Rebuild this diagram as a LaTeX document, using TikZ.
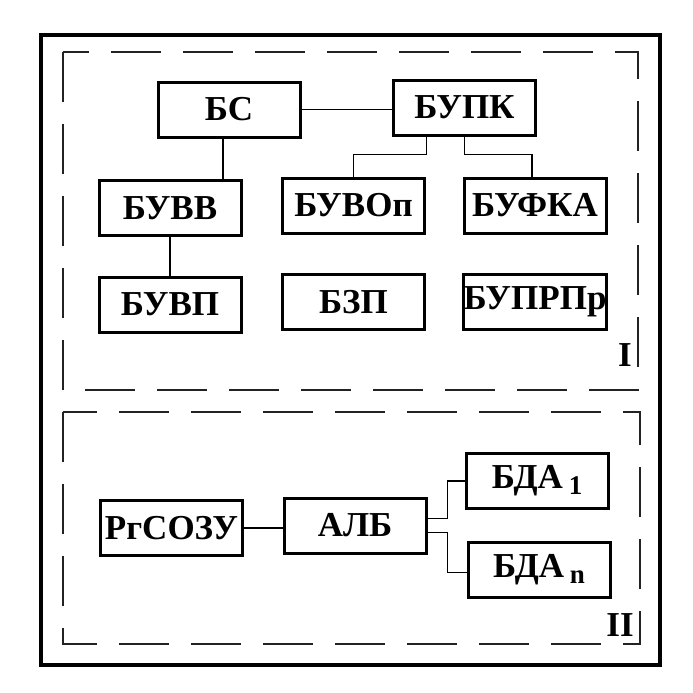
\documentclass[tikz,border=0pt]{standalone}
\usepackage{fontspec}
\setmainfont{Liberation Serif}
\usepackage{tikz}
\usetikzlibrary{positioning,calc}
\definecolor{sink}{HTML}{000000}
\definecolor{sdash}{HTML}{222222}

\begin{document}
\begin{tikzpicture}[x=1pt,y=-1pt,
  every node/.style={font=\fontsize{35}{37}\selectfont\bfseries,text=sink},
  blok/.style={draw=sink,line width=3pt,minimum width=142pt,minimum height=55pt,inner sep=0pt},
  ramka/.style={draw=sdash,line width=1.6pt,dash pattern=on 50pt off 22pt},
  link/.style={draw=sink,line width=1.3pt}]
  \useasboundingbox (0,0) rectangle (693,693);

  % outer frame and the two groups
  \draw[sink,line width=3.5pt] (41,35) rectangle (660,665);
  \draw[ramka] (63,52) rectangle (638,390);
  \draw[ramka] (63,412) rectangle (640,644);
  \node (lab1) at (625,355) {I};
  \node (lab2) at (620,625) {II};

  % group I
  \node[blok] (bs) at (229,109.5) {БС};
  \node[blok] (bupk) at (464.5,107.5) {БУПК};
  \node[blok] (buvv) at (170,208) {БУВВ};
  \node[blok] (buvop) at (353.5,205.5) {БУВОп};
  \node[blok] (bufka) at (535,205.5) {БУФКА};
  \node[blok] (buvp) at (170,304.5) {БУВП};
  \node[blok] (bzp) at (353.5,302) {БЗП};
  \node[blok] (buprpr) at (535,302) {БУПРПр};

  \draw[link] (bs.east) -- (bs.east -| bupk.west);
  \draw[link] ([xshift=-6pt]bs.south) -- ([xshift=-6pt]bs.south |- buvv.north);
  \draw[link] (buvv) -- (buvp);
  \draw[link] ([xshift=-38pt]bupk.south) -- ++(0,18) -| (buvop.north);
  \draw[link] (bupk.south) -- ++(0,18) -| ([xshift=-3pt]bufka.north);

  % group II
  \node[blok] (rgsozu) at (171.5,528) {РгСОЗУ};
  \node[blok] (alb) at (355,525.5) {АЛБ};
  \node[blok] (bda1) at (537,481) {БДА\,\raisebox{-6pt}{\fontsize{27}{27}\selectfont 1}};
  \node[blok] (bdan) at (539,569.5) {БДА\,\raisebox{-6pt}{\fontsize{27}{27}\selectfont n}};

  \draw[link] (rgsozu.east) -- (rgsozu.east -| alb.west);
  \draw[link] ([yshift=7pt]alb.east) -- ++(20,0) |- (bda1.west);
  \draw[link] ([yshift=-7pt]alb.east) -- ++(20,0) |- ([yshift=-3pt]bdan.west);
\end{tikzpicture}
\end{document}
